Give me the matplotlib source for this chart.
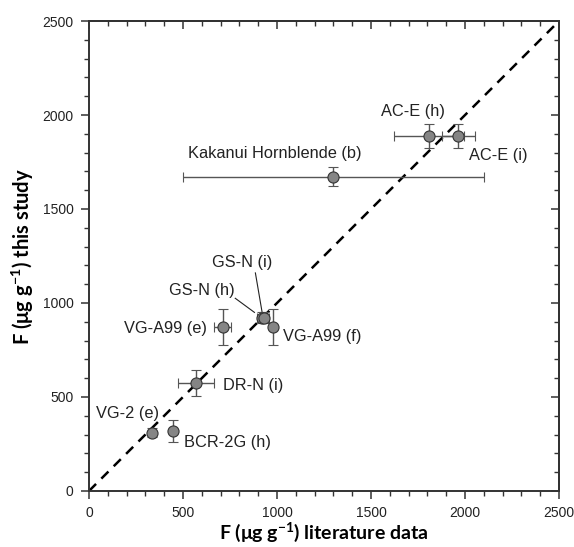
import numpy as np
import matplotlib.pyplot as plt

# reference materials: F (ug/g) literature vs this study
names = ["VG-2 (e)", "BCR-2G (h)", "DR-N (i)", "VG-A99 (e)", "GS-N (h)",
         "GS-N (i)", "VG-A99 (f)", "Kakanui Hornblende (b)", "AC-E (h)", "AC-E (i)"]
lit = np.array([337, 448, 569, 711, 918, 933, 977, 1300, 1809, 1965])
lit_err = np.array([10, 10, 95, 45, 25, 25, 0, 800, 187, 88])
study = np.array([310, 317, 573, 872, 922, 922, 872, 1672, 1888, 1888])
study_err = np.array([25, 58, 70, 97, 30, 30, 97, 50, 63, 63])

# label anchor (data coords), alignment
label_pos = {
    "VG-2 (e)": (40, 410, "left"),
    "BCR-2G (h)": (505, 259, "left"),
    "DR-N (i)": (714, 560, "left"),
    "VG-A99 (e)": (628, 863, "right"),
    "GS-N (h)": (600, 1065, "center"),
    "GS-N (i)": (814, 1213, "center"),
    "VG-A99 (f)": (1034, 821, "left"),
    "Kakanui Hornblende (b)": (989, 1793, "center"),
    "AC-E (h)": (1725, 2018, "center"),
    "AC-E (i)": (2023, 1787, "left"),
}
# leader lines for the crowded GS-N points
leaders = {"GS-N (h)": ((778, 1025), (880, 950)),
           "GS-N (i)": ((885, 1160), (920, 955))}

plt.rcParams['font.family'] = ['Liberation Sans', 'DejaVu Sans']

fig = plt.figure(figsize=(5.74, 5.47), dpi=100)
ax = fig.add_axes([0.155, 0.1024, 0.819, 0.8592])

ax.plot([0, 2500], [0, 2500], color='black', lw=1.8, ls=(0, (4, 3)), zorder=1)

ax.errorbar(lit, study, xerr=lit_err, yerr=study_err, fmt='o', ms=8,
            mfc='#858585', mec='#333333', mew=0.8, ecolor='#555555',
            elinewidth=1.0, capsize=3.5, capthick=1.0, zorder=3)

for n in names:
    x, y, ha = label_pos[n]
    ax.text(x, y, n, ha=ha, va='center', fontsize=11.8, color='#222222')
for n, (p0, p1) in leaders.items():
    ax.plot([p0[0], p1[0]], [p0[1], p1[1]], color='#222222', lw=0.8, zorder=2)

ax.set_xlim(0, 2500)
ax.set_ylim(0, 2500)
ticks = np.arange(0, 2501, 500)
ax.set_xticks(ticks)
ax.set_yticks(ticks)
ax.set_xticks(np.arange(0, 2501, 100), minor=True)
ax.set_yticks(np.arange(0, 2501, 100), minor=True)
ax.tick_params(which='major', direction='out', length=6, width=1.1, pad=5,
               labelsize=10, colors='#333333', labelcolor='#222222')
ax.tick_params(which='minor', direction='out', length=3.5, width=1.0, colors='#333333')

for side in ('top', 'right'):
    if side == 'top':
        sec = ax.secondary_xaxis('top')
        sec.set_xticks(ticks)
        sec.set_xticks(np.arange(0, 2501, 100), minor=True)
    else:
        sec = ax.secondary_yaxis('right')
        sec.set_yticks(ticks)
        sec.set_yticks(np.arange(0, 2501, 100), minor=True)
    sec.tick_params(which='major', direction='in', length=6, width=1.1,
                    colors='#333333', labelleft=False, labelright=False,
                    labeltop=False, labelbottom=False)
    sec.tick_params(which='minor', direction='in', length=3.5, width=1.0, colors='#333333')
    for s in sec.spines.values():
        s.set_linewidth(1.4)
        s.set_color('#333333')

for s in ax.spines.values():
    s.set_linewidth(1.4)
    s.set_color('#333333')

ax.set_xlabel(r'F ($\mathregular{\mu}$g g$^{\mathregular{-1}}$) literature data',
              fontsize=14, fontweight='bold', family='Lato', labelpad=0)
ax.set_ylabel(r'F ($\mathregular{\mu}$g g$^{\mathregular{-1}}$) this study',
              fontsize=14.5, fontweight='bold', family='Lato', labelpad=5)

fig.savefig('out.png', dpi=100)
